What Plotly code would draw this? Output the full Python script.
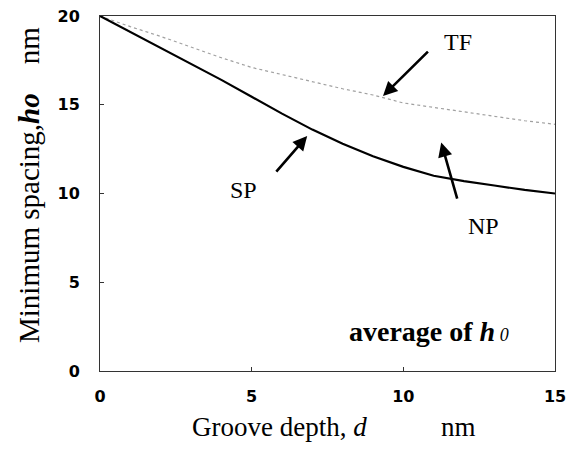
import plotly.graph_objects as go

depth = [0, 1, 2, 3, 4, 5, 6, 7, 8, 9, 10, 11, 12, 13, 14, 15]
np_spacing = [20, 19.1, 18.2, 17.3, 16.4, 15.45, 14.5, 13.6, 12.8, 12.1, 11.5, 11.0, 10.7, 10.45, 10.2, 10.0]
tf_spacing = [20, 19.4, 18.85, 18.25, 17.65, 17.1, 16.7, 16.3, 15.9, 15.55, 15.1, 14.85, 14.6, 14.35, 14.1, 13.9]

x_ticks = [0, 5, 10, 15]
y_ticks = [0, 5, 10, 15, 20]

serif = "Liberation Serif, Times New Roman, serif"
sans = "DejaVu Sans, Arial, sans-serif"

fig = go.Figure()
fig.add_trace(go.Scatter(x=depth, y=tf_spacing, mode="lines",
                         line=dict(color="#a0a0a0", width=1.2, dash="dot"),
                         showlegend=False, hoverinfo="skip"))
fig.add_trace(go.Scatter(x=depth, y=np_spacing, mode="lines",
                         line=dict(color="black", width=2.2),
                         showlegend=False, hoverinfo="skip"))

axis_common = dict(showgrid=False, zeroline=False, showline=True, mirror=True,
                   linecolor="#333", linewidth=1, ticks="inside", ticklen=4,
                   tickcolor="#333", automargin=False,
                   tickfont=dict(family=sans, size=16, color="black", weight="bold"))

fig.update_xaxes(range=[0, 15], tickvals=x_ticks, ticklabelstandoff=11,
                 ticklabeloverflow="allow", **axis_common)
fig.update_yaxes(range=[0, 20], tickvals=y_ticks, ticklabelstandoff=16, **axis_common)

arrows = [
    # head (x, y), tail (ax, ay)
    (9.33, 15.49, 10.86, 18.08),
    (6.83, 13.24, 5.77, 11.15),
    (11.25, 12.87, 11.79, 9.63),
]
for hx, hy, tx, ty in arrows:
    fig.add_annotation(x=hx, y=hy, ax=tx, ay=ty, xref="x", yref="y", axref="x", ayref="y",
                       text="", showarrow=True, arrowhead=2, arrowsize=1.1, arrowwidth=2.6,
                       arrowcolor="black")

labels = [("TF", 11.79, 18.54), ("SP", 4.73, 10.2), ("NP", 12.64, 8.17)]
for t, lx, ly in labels:
    fig.add_annotation(x=lx, y=ly, xref="x", yref="y", text=t, showarrow=False,
                       font=dict(family=serif, size=24, color="black"))

fig.add_annotation(x=10.84, y=2.2, xref="x", yref="y",
                   text="<b>average of <i>h</i></b><i><span style='font-size:18px'> 0</span></i>",
                   showarrow=False, font=dict(family=serif, size=28, color="black"))

fig.add_annotation(x=0.5125, y=-0.158, xref="paper", yref="paper",
                   text="Groove depth, <i>d</i>" + "\u00a0" * 11 + "nm",
                   showarrow=False, font=dict(family=serif, size=27, color="black"),
                   xanchor="center", yanchor="middle")
fig.add_annotation(x=-0.156, y=0.524, xref="paper", yref="paper",
                   text="Minimum spacing,<b><i>ho</i></b>" + "\u00a0" * 4 + "nm",
                   textangle=-90, showarrow=False,
                   font=dict(family=serif, size=29, color="black"),
                   xanchor="center", yanchor="middle")

fig.update_layout(width=567, height=457, margin=dict(l=100, r=12, t=16, b=86),
                  paper_bgcolor="white", plot_bgcolor="white")

fig.write_html("out.html")
